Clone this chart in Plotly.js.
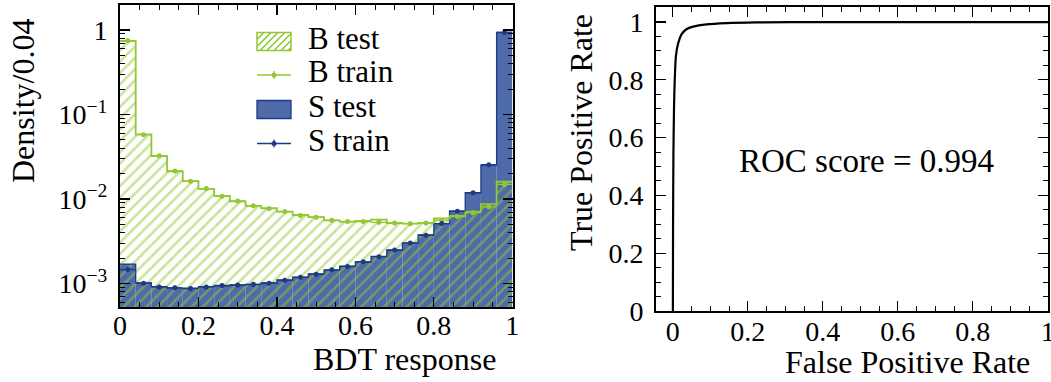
<!DOCTYPE html>
<html><head><meta charset="utf-8">
<script src="https://cdn.plot.ly/plotly-3.0.1.min.js"></script>
<style>html,body{margin:0;padding:0;background:#fff;}#chart{width:1051px;height:382px;}</style>
</head><body><div id="chart"></div>
<script>
// ---- data ----
const binCenters = [0.02,0.06,0.10,0.14,0.18,0.22,0.26,0.30,0.34,0.38,0.42,0.46,0.50,
                    0.54,0.58,0.62,0.66,0.70,0.74,0.78,0.82,0.86,0.90,0.94,0.98];
const binWidth = 0.04;
const bTest  = [0.741,0.0582,0.0323,0.0213,0.0163,0.0132,0.0109,0.0094,0.0083,0.0078,0.0071,0.0065,0.0061,
                0.0056,0.0054,0.0055,0.0057,0.0052,0.0051,0.0052,0.0059,0.0063,0.0071,0.0087,0.0160];
const bTrain = [0.745,0.0578,0.0325,0.0214,0.0162,0.0133,0.0108,0.0095,0.0083,0.0077,0.0071,0.0064,0.0061,
                0.0056,0.0054,0.0054,0.0053,0.0052,0.0051,0.0052,0.0056,0.0062,0.0069,0.0081,0.0149];
const bTrainErr = [0.004,0.0011,0.0008,0.0006,0.0005,0.0004,0.0004,0.0003,0.0003,0.0003,0.0003,0.0003,0.0003,
                   0.0003,0.0003,0.0003,0.0003,0.0003,0.0003,0.0003,0.0003,0.0003,0.0003,0.0004,0.0006];
const sTest  = [0.00170,0.00102,0.00092,0.00088,0.00088,0.00092,0.00094,0.00096,0.00097,0.00102,0.00110,0.00118,0.00130,
                0.00144,0.00160,0.00180,0.00210,0.00249,0.00300,0.00375,0.00510,0.00720,0.01190,0.02520,0.940];
const sTrain = [0.00146,0.00101,0.00091,0.00089,0.00087,0.00091,0.00095,0.00096,0.00098,0.00101,0.00109,0.00119,0.00129,
                0.00145,0.00159,0.00181,0.00208,0.00250,0.00302,0.00373,0.00512,0.00718,0.01185,0.02550,0.935];
const sTrainErr = [0.00008,0.00006,0.00006,0.00006,0.00006,0.00006,0.00006,0.00006,0.00006,0.00006,0.00006,0.00007,0.00007,
                   0.00007,0.00008,0.00008,0.00009,0.0001,0.0001,0.00012,0.00014,0.00016,0.0002,0.0003,0.003];
const rocFPR = [0, 0.0005, 0.0015, 0.0030, 0.0044, 0.0080, 0.014, 0.023, 0.036, 0.054, 0.090, 0.143, 0.223, 0.40, 0.70, 1.0];
const rocTPR = [0, 0.300, 0.550, 0.700, 0.776, 0.880, 0.926, 0.957, 0.975, 0.984, 0.992, 0.9965, 0.999, 0.9998, 1.0, 1.0];
const rocScore = 0.994;
const legendLabels = ['B test', 'B train', 'S test', 'S train'];
const yTickVals = [1, 0.1, 0.01, 0.001];
const yTickText = ['1', '10<sup>\u22121</sup>', '10<sup>\u22122</sup>', '10<sup>\u22123</sup>'];
const xTickVals = [0, 0.2, 0.4, 0.6, 0.8, 1];
const xTickText = ['0', '0.2', '0.4', '0.6', '0.8', '1'];

// ---- styles ----
const GREEN = '#93c734';
const BLUE_FILL = '#4e6aa8';
const BLUE_LINE = '#1f3a85';
const SERIF = 'Liberation Serif, Times New Roman, serif';
const W = 1051, H = 382;

// helpers derived from data
const edges = binCenters.map(c => c - binWidth / 2).concat([binCenters[binCenters.length - 1] + binWidth / 2]);
const stepY = v => v.concat([v[v.length - 1]]);

const traces = [
  { type: 'bar', x: binCenters, y: sTest, width: binWidth, name: 'S test',
    marker: { color: BLUE_FILL, line: { width: 0 } }, xaxis: 'x', yaxis: 'y', hoverinfo: 'skip' },
  { type: 'scatter', mode: 'lines', x: edges, y: stepY(sTest), line: { shape: 'hv', color: BLUE_LINE, width: 1.3 },
    xaxis: 'x', yaxis: 'y', hoverinfo: 'skip' },
  { type: 'bar', x: binCenters, y: bTest, width: binWidth, name: 'B test',
    marker: { color: 'rgba(0,0,0,0)', line: { width: 0 },
              pattern: { shape: '/', fgcolor: GREEN, bgcolor: 'rgba(0,0,0,0)', size: 8, solidity: 0.32, fillmode: 'overlay' } },
    xaxis: 'x', yaxis: 'y', hoverinfo: 'skip' },
  { type: 'scatter', mode: 'lines', x: edges, y: stepY(bTest), line: { shape: 'hv', color: GREEN, width: 1.8 },
    xaxis: 'x', yaxis: 'y', hoverinfo: 'skip' },
  { type: 'scatter', mode: 'markers', x: binCenters, y: bTrain, name: 'B train',
    marker: { color: GREEN, size: 5 },
    error_x: { type: 'constant', value: binWidth / 2, width: 0, thickness: 1.3, color: GREEN },
    error_y: { type: 'data', array: bTrainErr, width: 0, thickness: 1.3, color: GREEN },
    xaxis: 'x', yaxis: 'y', hoverinfo: 'skip' },
  { type: 'scatter', mode: 'markers', x: binCenters, y: sTrain, name: 'S train',
    marker: { color: BLUE_LINE, size: 5 },
    error_x: { type: 'constant', value: binWidth / 2, width: 0, thickness: 1.3, color: BLUE_LINE },
    error_y: { type: 'data', array: sTrainErr, width: 0, thickness: 1.3, color: BLUE_LINE },
    xaxis: 'x', yaxis: 'y', hoverinfo: 'skip' },
  { type: 'scatter', mode: 'lines', x: rocFPR, y: rocTPR, line: { color: '#000', width: 2.2, shape: 'spline', smoothing: 0.6 },
    xaxis: 'x2', yaxis: 'y2', hoverinfo: 'skip' }
];

// minor tick positions for the log axis
const logMinor = [];
for (let k = -4; k <= 0; k++) for (let d = 2; d <= 9; d++) logMinor.push(d * Math.pow(10, k));

// ---- legend drawn inside the left panel (pixel layout -> paper coords) ----
const px = x => x / W, py = y => 1 - y / H;
const LG = { x0: 257, x1: 291, rows: [41.5, 75, 109.5, 143.5], textX: 306, boxH: 18 };
const legendShapes = [];
// B test: hatched box
(function () {
  const cy = LG.rows[0], t0 = cy - LG.boxH / 2, b0 = cy + LG.boxH / 2, h = LG.boxH;
  let d = '';
  for (let c = LG.x0 - h; c <= LG.x1; c += 7) {
    const tA = Math.max(0, LG.x0 - c), tB = Math.min(h, LG.x1 - c);
    if (tB > tA) d += 'M' + px(c + tA) + ',' + py(b0 - tA) + 'L' + px(c + tB) + ',' + py(b0 - tB);
  }
  legendShapes.push({ type: 'path', xref: 'paper', yref: 'paper', path: d, line: { color: GREEN, width: 1.6 } });
  legendShapes.push({ type: 'rect', xref: 'paper', yref: 'paper', x0: px(LG.x0), x1: px(LG.x1), y0: py(b0), y1: py(t0),
    line: { color: GREEN, width: 1.5 }, fillcolor: 'rgba(0,0,0,0)' });
})();
// S test: filled box
legendShapes.push({ type: 'rect', xref: 'paper', yref: 'paper', x0: px(LG.x0), x1: px(LG.x1),
  y0: py(LG.rows[2] + LG.boxH / 2), y1: py(LG.rows[2] - LG.boxH / 2), line: { color: BLUE_LINE, width: 1.3 }, fillcolor: BLUE_FILL });
// train: errorbar glyphs
[[1, GREEN], [3, BLUE_LINE]].forEach(([r, col]) => {
  const cy = LG.rows[r], cx = (LG.x0 + LG.x1) / 2;
  legendShapes.push({ type: 'line', xref: 'paper', yref: 'paper', x0: px(LG.x0), x1: px(LG.x1), y0: py(cy), y1: py(cy), line: { color: col, width: 1.3 } });
  legendShapes.push({ type: 'line', xref: 'paper', yref: 'paper', x0: px(cx), x1: px(cx), y0: py(cy - 4), y1: py(cy + 4), line: { color: col, width: 1.3 } });
  legendShapes.push({ type: 'circle', xref: 'paper', yref: 'paper', x0: px(cx - 2.5), x1: px(cx + 2.5), y0: py(cy + 2.5), y1: py(cy - 2.5), line: { width: 0 }, fillcolor: col });
});
const legendAnns = legendLabels.map((t, i) => ({ text: t, xref: 'paper', yref: 'paper', x: px(LG.textX), y: py(LG.rows[i] - 3),
  xanchor: 'left', yanchor: 'middle', showarrow: false, font: { family: SERIF, size: 31, color: '#000' } }));

const tickFont = { family: SERIF, size: 28, color: '#000' };
const common = { showline: true, linecolor: '#000', linewidth: 2, mirror: 'allticks', ticks: 'inside',
  ticklen: 10, tickwidth: 1.2, tickcolor: '#000', showgrid: false, zeroline: false, tickfont: tickFont,
  automargin: false, ticklabeloverflow: 'allow' };
const minorLin = { ticks: 'inside', ticklen: 5, tickwidth: 1, tickcolor: '#000', dtick: 0.05, showgrid: false };
const titleFont = { family: SERIF, size: 32, color: '#000' };

const layout = {
  width: W, height: H, margin: { l: 0, r: 0, t: 0, b: 0 },
  paper_bgcolor: '#fff', plot_bgcolor: 'rgba(0,0,0,0)',
  barmode: 'overlay', showlegend: false,
  font: { family: SERIF, color: '#000' },
  xaxis: Object.assign({}, common, { domain: [120 / W, 512.5 / W], range: [0, 1.0005], tickmode: 'array',
            tickvals: xTickVals, ticktext: xTickText, minor: minorLin, anchor: 'y', ticklabelstandoff: -8 }),
  yaxis: Object.assign({}, common, { type: 'log', domain: [1 - 307 / H, 1 - 5 / H], range: [-3.278, 0.296],
            tickmode: 'array', tickvals: yTickVals, ticktext: yTickText,
            minor: { ticks: 'inside', ticklen: 5, tickwidth: 1, tickcolor: '#000', tickmode: 'array', tickvals: logMinor, showgrid: false },
            anchor: 'x', ticklabelstandoff: 5 }),
  xaxis2: Object.assign({}, common, { domain: [656 / W, 1048 / W], range: [-0.045, 1.0005], tickmode: 'array',
            tickvals: xTickVals, ticktext: xTickText, minor: minorLin, anchor: 'y2', ticklabelstandoff: -6 }),
  yaxis2: Object.assign({}, common, { domain: [1 - 311 / H, 1 - 7 / H], range: [0, 1.052], tickmode: 'linear', tick0: 0, dtick: 0.2,
            minor: minorLin, anchor: 'x2', ticklabelstandoff: 5 }),
  shapes: legendShapes,
  annotations: legendAnns.concat([
    { text: 'Density/0.04', xref: 'paper', yref: 'paper', x: 23 / W, y: 1 - 101 / H, textangle: -90,
      xanchor: 'center', yanchor: 'middle', showarrow: false, font: titleFont },
    { text: 'BDT response', xref: 'paper', yref: 'paper', x: 404 / W, y: 1 - 359 / H,
      xanchor: 'center', yanchor: 'middle', showarrow: false, font: titleFont },
    { text: 'True Positive Rate', xref: 'paper', yref: 'paper', x: 581 / W, y: 1 - 133 / H, textangle: -90,
      xanchor: 'center', yanchor: 'middle', showarrow: false, font: titleFont },
    { text: 'False Positive Rate', xref: 'paper', yref: 'paper', x: 907 / W, y: 0,
      xanchor: 'center', yanchor: 'bottom', showarrow: false, font: titleFont },
    { text: 'ROC score = ' + rocScore.toFixed(3), xref: 'x2', yref: 'y2', x: 0.517, y: 0.52,
      xanchor: 'center', yanchor: 'middle', showarrow: false, font: { family: SERIF, size: 33, color: '#000' } }
  ])
};

Plotly.newPlot('chart', traces, layout, { staticPlot: true, displayModeBar: false });
</script>
</body></html>
